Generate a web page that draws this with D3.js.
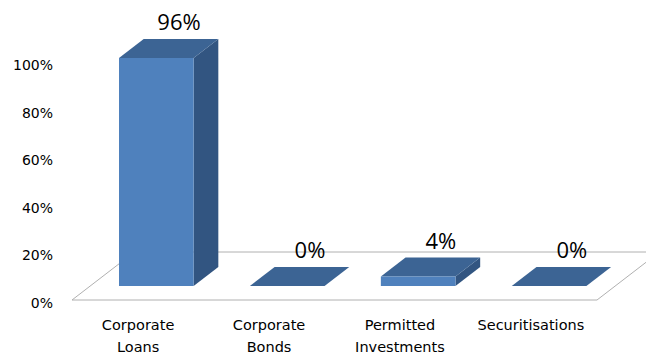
<!DOCTYPE html>
<html>
<head>
<meta charset="utf-8">
<script src="https://cdn.jsdelivr.net/npm/d3@7"></script>
<style>
  body { margin: 0; background: #fff; }
</style>
</head>
<body>
<svg id="chart"></svg>
<script>
// chart data
const categories = ["Corporate Loans", "Corporate Bonds", "Permitted Investments", "Securitisations"];
const categoryLines = [["Corporate", "Loans"], ["Corporate", "Bonds"], ["Permitted", "Investments"], ["Securitisations"]];
const values = [0.96, 0, 0.04, 0];
const valueLabels = ["96%", "0%", "4%", "0%"];
const yTicks = [0, 0.2, 0.4, 0.6, 0.8, 1];

const width = 646, height = 356;

const svg = d3.select("#chart").attr("width", width).attr("height", height);

// front edge of the floor is the category band range
const x = d3.scaleBand()
  .domain(categories)
  .range([72, 597])
  .paddingInner(0.43)
  .paddingOuter(0.22);

const y = d3.scaleLinear().domain([0, 1]).range([300, 62.5]);

// oblique projection: depth d moves right and up
const K = 1.3;
const floorDepth = 48, barFront = 14, barBack = 33;
const proj = (px, v, d) => [px + d * K, y(v) - d];
const poly = (pts) => pts.map((p) => p.join(",")).join(" ");

// floor
const [fx0, fx1] = x.range();
svg.append("polygon")
  .attr("points", poly([proj(fx0, 0, 0), proj(fx1, 0, 0), proj(fx1, 0, floorDepth), proj(fx0, 0, floorDepth)]))
  .attr("fill", "#fff")
  .attr("stroke", "#b0b0b0")
  .attr("stroke-width", 1);

// y axis labels
svg.append("g")
  .attr("transform", "translate(55,3)")
  .call(d3.axisLeft(y).tickValues(yTicks).tickFormat(d3.format(".0%")).tickSize(0).tickPadding(2))
  .call((g) => g.select(".domain").remove())
  .selectAll("text")
  .attr("font-family", "DejaVu Sans")
  .attr("font-size", 14)
  .attr("fill", "#000");

// bars
const bars = svg.selectAll(".bar")
  .data(categories.map((c, i) => ({ c, v: values[i], label: valueLabels[i] })))
  .enter()
  .append("g")
  .attr("class", "bar");

bars.append("polygon")
  .attr("points", (d) => {
    const x1 = x(d.c) + x.bandwidth();
    return poly([proj(x1, 0, barFront), proj(x1, 0, barBack), proj(x1, d.v, barBack), proj(x1, d.v, barFront)]);
  })
  .attr("fill", "#325581");

bars.append("polygon")
  .attr("points", (d) => {
    const x0 = x(d.c), x1 = x0 + x.bandwidth();
    return poly([proj(x0, d.v, barFront), proj(x1, d.v, barFront), proj(x1, d.v, barBack), proj(x0, d.v, barBack)]);
  })
  .attr("fill", "#3c6494");

bars.append("polygon")
  .attr("points", (d) => {
    const x0 = x(d.c), x1 = x0 + x.bandwidth();
    return poly([proj(x0, 0, barFront), proj(x1, 0, barFront), proj(x1, d.v, barFront), proj(x0, d.v, barFront)]);
  })
  .attr("fill", "#4f81bd");

// value labels above the back edge of each bar top
bars.append("text")
  .attr("x", (d) => proj(x(d.c) + x.bandwidth() / 2, d.v, barBack)[0] - 2)
  .attr("y", (d) => proj(0, d.v, barBack)[1] - 9)
  .attr("text-anchor", "middle")
  .attr("font-family", "Open Sans")
  .attr("font-size", 22)
  .attr("fill", "#000")
  .text((d) => d.label);

// category labels
const cat = svg.selectAll(".cat")
  .data(categories)
  .enter()
  .append("text")
  .attr("class", "cat")
  .attr("x", (d) => x(d) + x.bandwidth() / 2)
  .attr("y", 330)
  .attr("text-anchor", "middle")
  .attr("font-family", "DejaVu Sans")
  .attr("font-size", 14.5)
  .attr("fill", "#000");

cat.selectAll("tspan")
  .data((d, i) => categoryLines[i])
  .enter()
  .append("tspan")
  .attr("x", function () { return d3.select(this.parentNode).attr("x"); })
  .attr("dy", (d, j) => (j === 0 ? 0 : 22))
  .text((d) => d);
</script>
</body>
</html>
